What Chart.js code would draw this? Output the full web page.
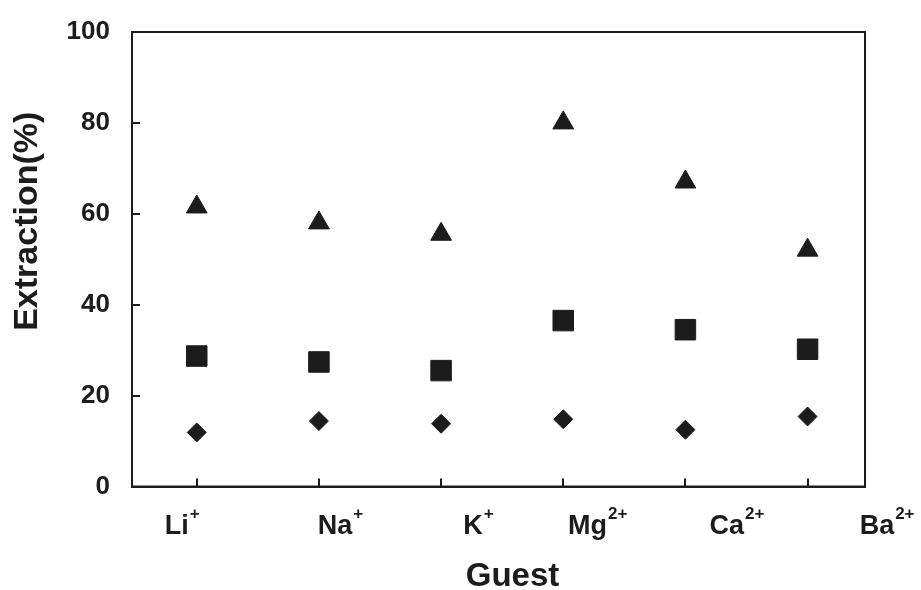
<!DOCTYPE html>
<html>
<head>
<meta charset="utf-8">
<script src="https://cdn.jsdelivr.net/npm/chart.js@4.4.0/dist/chart.umd.min.js"></script>
<style>
  html, body { margin: 0; padding: 0; background: #fff; }
  #wrap { width: 921px; height: 590px; }
</style>
</head>
<body>
<div id="wrap"><canvas id="chart" width="921" height="590"></canvas></div>
<script>
// --- Datos ---
const guests = ["Li", "Na", "K", "Mg", "Ca", "Ba"];
const charges = ["+", "+", "+", "2+", "2+", "2+"];
const triangleSeries = [61.5, 58, 55.5, 80, 67, 52];
const squareSeries = [28.7, 27.4, 25.5, 36.5, 34.5, 30.2];
const diamondSeries = [11.9, 14.4, 13.8, 14.8, 12.5, 15.4];
const yTicks = [0, 20, 40, 60, 80, 100];

const INK = "#1c1c1c";
const FONT = "'Liberation Sans', Arial, sans-serif";

// the original figure places the guest labels unevenly (px shift from each tick)
const labelNudge = [-15, 21, 37, 34, 51, 79];

function toPoints(vals) {
  return vals.map((v, i) => ({ x: i, y: v }));
}

// --- Marco, etiquetas con superíndice y títulos ---
const framePlugin = {
  id: "frame",
  afterDraw(chart) {
    const { ctx, chartArea: a, scales } = chart;
    ctx.save();
    ctx.strokeStyle = INK;
    ctx.lineWidth = 2;
    ctx.strokeRect(a.left, a.top, a.right - a.left, a.bottom - a.top);

    const xs = scales.x;
    ctx.fillStyle = INK;
    ctx.textAlign = "left";
    ctx.textBaseline = "alphabetic";
    guests.forEach((g, i) => {
      ctx.font = `bold 27px ${FONT}`;
      const wMain = ctx.measureText(g).width;
      ctx.font = `bold 17px ${FONT}`;
      const wSup = ctx.measureText(charges[i]).width;
      const cx = xs.getPixelForValue(i) + labelNudge[i];
      const x0 = cx - (wMain + wSup) / 2;
      const base = a.bottom + 47;
      ctx.font = `bold 27px ${FONT}`;
      ctx.fillText(g, x0, base);
      ctx.font = `bold 17px ${FONT}`;
      ctx.fillText(charges[i], x0 + wMain + 1, base - 15);
    });

    ctx.font = `bold 33px ${FONT}`;
    ctx.textAlign = "center";
    ctx.fillText("Guest", (a.left + a.right) / 2 + 14, a.bottom + 99);

    ctx.font = `bold 34px ${FONT}`;
    ctx.translate(28, (a.top + a.bottom) / 2 - 38);
    ctx.rotate(-Math.PI / 2);
    ctx.textBaseline = "middle";
    ctx.fillText("Extraction(%)", 0, 0);
    ctx.restore();
  }
};

const markerBase = { backgroundColor: INK, borderColor: INK, borderWidth: 1 };

new Chart(document.getElementById("chart"), {
  type: "scatter",
  data: {
    datasets: [
      { ...markerBase, data: toPoints(triangleSeries), pointStyle: "triangle", pointRadius: 12 },
      { ...markerBase, data: toPoints(squareSeries), pointStyle: "rect", pointRadius: 14.5 },
      { ...markerBase, data: toPoints(diamondSeries), pointStyle: "rectRot", pointRadius: 9.5 }
    ]
  },
  options: {
    responsive: false,
    animation: false,
    layout: { padding: { top: 32, right: 56, left: 0, bottom: 0 } },
    plugins: { legend: { display: false }, tooltip: { enabled: false } },
    scales: {
      x: {
        type: "linear",
        min: -0.53,
        max: 5.47,
        afterBuildTicks: s => { s.ticks = guests.map((g, i) => ({ value: i })); },
        afterFit: s => { s.height = 103.5; s.paddingLeft = 0; s.paddingRight = 0; },
        ticks: { display: false },
        grid: { drawOnChartArea: false, drawTicks: true, tickLength: -8, color: INK, lineWidth: 2 },
        border: { display: true, color: INK, width: 2 }
      },
      y: {
        min: 0,
        max: 100,
        afterBuildTicks: s => { s.ticks = yTicks.map(v => ({ value: v })); },
        // fixed axis width; drop the label overhang so the frame top sits where the original has it
        afterFit: s => { s.width = 132; s.paddingTop = 0; s.paddingBottom = 0; },
        ticks: { color: INK, font: { family: FONT, size: 26, weight: "bold" }, padding: 30 },
        grid: { drawOnChartArea: false, drawTicks: true, tickLength: -8, color: INK, lineWidth: 2 },
        border: { display: true, color: INK, width: 2 }
      }
    }
  },
  plugins: [framePlugin]
});
</script>
</body>
</html>
